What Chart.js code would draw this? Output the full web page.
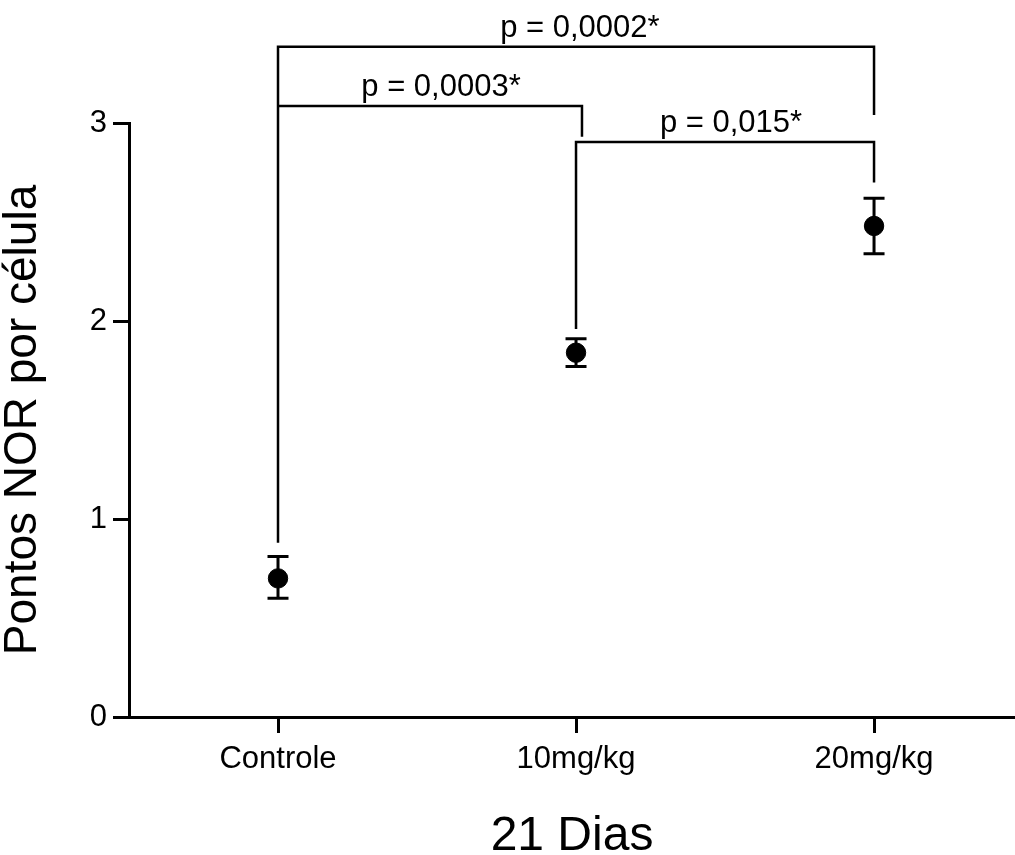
<!DOCTYPE html>
<html>
<head>
<meta charset="utf-8">
<script src="https://cdn.jsdelivr.net/npm/chart.js@4"></script>
<style>
  html, body { margin: 0; padding: 0; background: #fff; overflow: hidden; }
  #wrap { position: relative; width: 1015px; height: 855px; }
  #norChart { display: block; }
</style>
</head>
<body>
<div id="wrap"><canvas id="norChart"></canvas></div>
<script>
// dados (21 dias)
const categories = ['Controle', '10mg/kg', '20mg/kg'];
const means = [0.70, 1.84, 2.48];
const errLow = [0.60, 1.77, 2.34];
const errHigh = [0.81, 1.91, 2.62];
const yTicks = [0, 1, 2, 3];

// barras de significância
const bracketFrom = [0, 0, 1];
const bracketTo = [2, 1.02, 2];
const bracketLevel = [3.385, 3.086, 2.904];
const bracketLeftEnd = [0.88, 3.086, 1.96];
const bracketRightEnd = [3.04, 2.93, 2.70];
const bracketLabels = ['p = 0,0002*', 'p = 0,0003*', 'p = 0,015*'];
const bracketLabelX = [1.013, 0.547, 1.52];

const FONT = "'Liberation Sans', Arial, Helvetica, sans-serif";

const extrasPlugin = {
    id: 'extras',
    afterDatasetsDraw(chart) {
        const ctx = chart.ctx;
        const x = chart.scales.x;
        const y = chart.scales.y;
        ctx.save();
        ctx.strokeStyle = '#000';
        ctx.lineWidth = 3;
        ctx.lineCap = 'butt';

        // barras de erro
        means.forEach((m, i) => {
            const px = x.getPixelForValue(i);
            const top = y.getPixelForValue(errHigh[i]);
            const bot = y.getPixelForValue(errLow[i]);
            ctx.beginPath();
            ctx.moveTo(px, top);
            ctx.lineTo(px, bot);
            ctx.moveTo(px - 10.5, top);
            ctx.lineTo(px + 10.5, top);
            ctx.moveTo(px - 10.5, bot);
            ctx.lineTo(px + 10.5, bot);
            ctx.stroke();
        });

        // colchetes com p
        ctx.lineWidth = 2.5;
        ctx.fillStyle = '#000';
        ctx.font = '31px ' + FONT;
        ctx.textAlign = 'center';
        ctx.textBaseline = 'alphabetic';
        bracketLabels.forEach((label, i) => {
            const x1 = x.getPixelForValue(bracketFrom[i]);
            const x2 = x.getPixelForValue(bracketTo[i]);
            const ly = y.getPixelForValue(bracketLevel[i]);
            ctx.beginPath();
            ctx.moveTo(x1, y.getPixelForValue(bracketLeftEnd[i]));
            ctx.lineTo(x1, ly);
            ctx.lineTo(x2, ly);
            ctx.lineTo(x2, y.getPixelForValue(bracketRightEnd[i]));
            ctx.stroke();
            ctx.fillText(label, x.getPixelForValue(bracketLabelX[i]), ly - 10);
        });
        ctx.restore();
    }
};

new Chart(document.getElementById('norChart').getContext('2d'), {
    type: 'scatter',
    data: {
        datasets: [{
            data: means.map((m, i) => ({ x: i, y: m })),
            backgroundColor: '#000',
            borderColor: '#000',
            pointRadius: 9.7,
            pointHoverRadius: 9.7,
            showLine: false
        }]
    },
    options: {
        responsive: true,
        maintainAspectRatio: false,
        animation: false,
        events: [],
        layout: { autoPadding: false, padding: { top: 123, right: 0, bottom: 0, left: 0 } },
        plugins: {
            legend: { display: false },
            tooltip: { enabled: false }
        },
        scales: {
            x: {
                type: 'linear',
                min: -0.5,
                max: 2.473,
                afterBuildTicks: s => { s.ticks = categories.map((c, i) => ({ value: i })); },
                afterFit: s => { s.height = 138; s.paddingLeft = 0; s.paddingRight = 0; },
                ticks: {
                    autoSkip: false,
                    maxRotation: 0,
                    color: '#000',
                    padding: 8,
                    font: { family: FONT, size: 31 },
                    callback: v => categories[v]
                },
                grid: { drawOnChartArea: false, color: '#000', lineWidth: 3, tickLength: 16 },
                border: { color: '#000', width: 3 },
                title: {
                    display: true,
                    text: '21 Dias',
                    color: '#000',
                    font: { family: FONT, size: 48, lineHeight: 1 },
                    padding: { top: 0, bottom: -6 }
                }
            },
            y: {
                min: 0,
                max: 3,
                afterBuildTicks: s => { s.ticks = yTicks.map(v => ({ value: v })); },
                afterFit: s => { s.width = 129; },
                ticks: {
                    color: '#000',
                    padding: 6,
                    font: { family: FONT, size: 31 }
                },
                grid: { drawOnChartArea: false, color: '#000', lineWidth: 3, tickLength: 16 },
                border: { color: '#000', width: 3 },
                title: {
                    display: true,
                    text: 'Pontos NOR por célula',
                    color: '#000',
                    font: { family: FONT, size: 46, lineHeight: 1 },
                    padding: { top: 0, bottom: 0 }
                }
            }
        }
    },
    plugins: [extrasPlugin]
});
</script>
</body>
</html>
